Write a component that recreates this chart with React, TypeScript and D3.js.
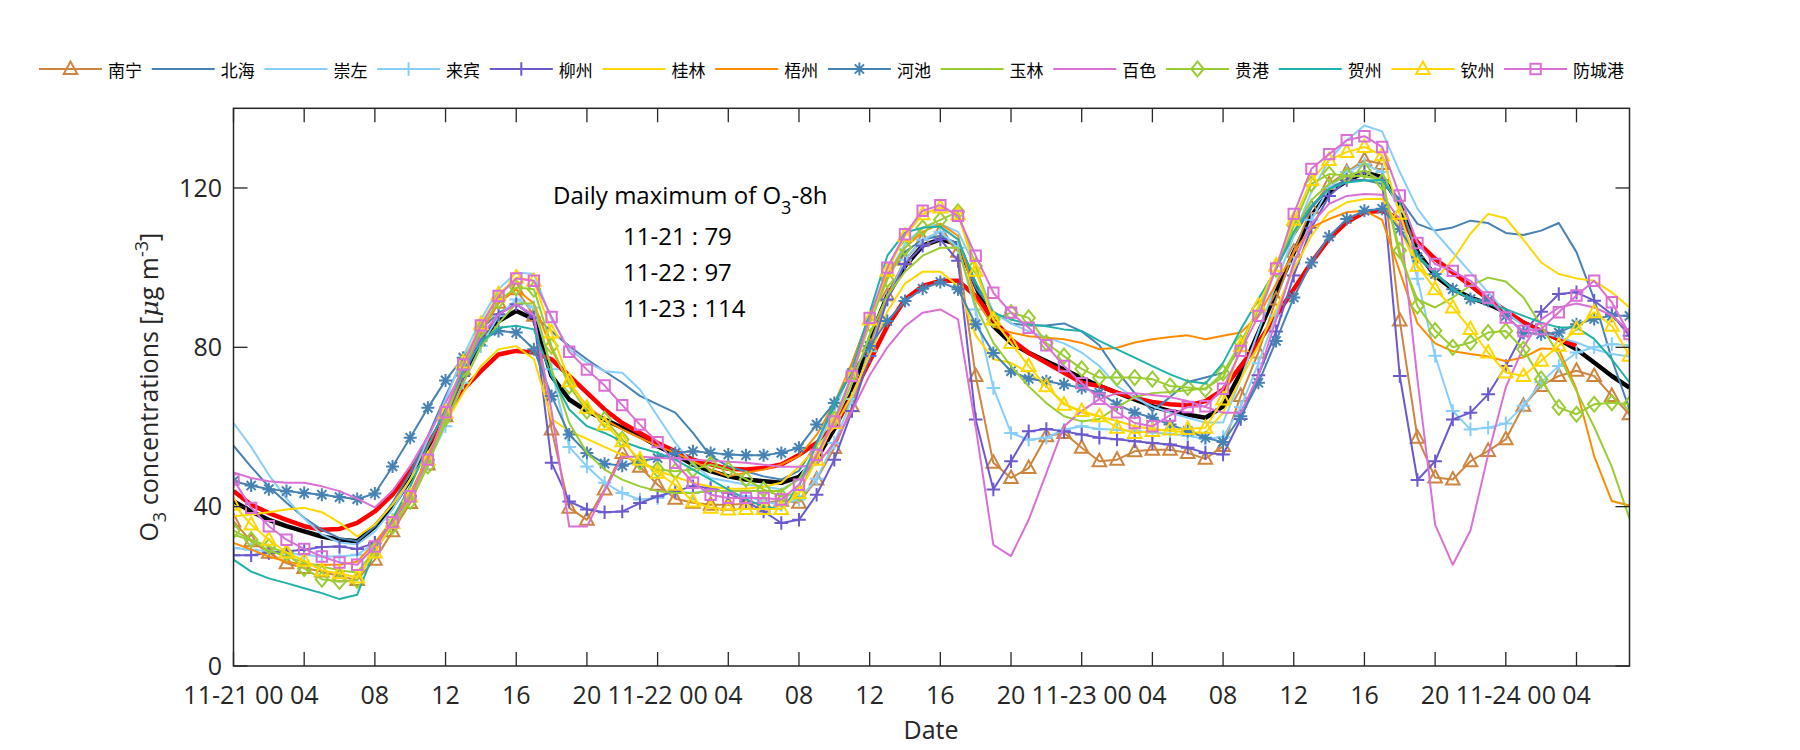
import React from 'react';
import * as d3 from 'd3';

// ---------- data (hourly O3, 11-21 00:00 .. 11-24 07:00) ----------
const cities = ['南宁', '北海', '崇左', '来宾', '柳州', '桂林', '梧州', '河池', '玉林', '百色', '贵港', '贺州', '钦州', '防城港'];
const cityColors = ['#CD853F', '#4682B4', '#87CEFA', '#87CEFA', '#6A5ACD', '#FFD700', '#FF8C00', '#4682B4', '#9ACD32', '#DA70D6', '#9ACD32', '#20B2AA', '#FFD700', '#DA70D6'];
const cityMarkers = ['triangle', 'none', 'none', 'plus', 'plus', 'none', 'none', 'asterisk', 'none', 'none', 'diamond', 'none', 'triangle', 'square'];

const nanning = [36.3, 31.3, 28.4, 25.8, 24.6, 23.7, 22.5, 21.6, 26.7, 33.8, 40.9, 50.6, 62.7, 74.5, 84.5, 91.2, 94.6, 87.9, 59.4, 39.7, 36.7, 44.3, 53.5, 50, 45.5, 42, 41, 40.5, 40.5, 40.7, 41, 41.5, 41, 46.8, 54.7, 65.2, 80.3, 93, 102, 107, 109, 104, 72.8, 51, 47.2, 49.7, 57.7, 58.5, 54.8, 51.4, 51.8, 53.9, 54.3, 54.3, 53.5, 52, 55.2, 67.8, 78.7, 92, 104, 115, 121, 124, 127, 126, 86.7, 57.3, 47.3, 46.8, 51.4, 54, 56.9, 65.3, 70.3, 72.8, 74.1, 72.8, 67.8, 63.2];
const beihai = [55.3, 50, 45, 41, 37.2, 34.2, 32.1, 31.3, 35, 41, 48.5, 57.7, 67.8, 77, 84.5, 88.7, 90.8, 88, 84, 80.3, 77, 74, 71.1, 67.8, 65.7, 63.6, 58.5, 52.7, 50.1, 48.9, 47.6, 46.8, 49, 56, 65, 76, 88, 98, 104, 107, 108, 106, 95, 89, 86, 85.5, 85.5, 86, 84, 80.5, 74, 68.5, 64, 67.5, 71.3, 72.4, 73.6, 80, 90, 100, 108, 115, 120, 122, 122, 121, 117.3, 111, 109.3, 110.1, 111.8, 111.2, 108.7, 108.2, 109.3, 111.2, 103.9, 92.1, 77, 64.4];
const chongzuo = [61, 55, 48, 42, 37, 33, 31, 30.5, 33.8, 39.3, 46.8, 56.9, 66.9, 77.8, 87, 94.6, 98.8, 98.4, 87, 79.5, 76.2, 74, 73.6, 69.4, 62.7, 56, 50.6, 47.2, 46.4, 45.5, 45.1, 44.3, 46.8, 55, 64, 75, 87, 98, 106, 110, 111, 109, 100, 88.7, 86, 84, 82.5, 81, 78.7, 75.3, 70.3, 67.3, 65.2, 63.6, 62.3, 61.1, 61.1, 72, 84, 96, 108, 119, 127, 132, 135.7, 134.2, 124, 114.8, 108.9, 103.8, 98.8, 93.8, 88.8, 85.4, 83.7, 82.5, 81.2, 79.5, 78.3, 77.7];
const laibin = [29.6, 29.2, 28.8, 28.4, 27.9, 27.5, 27.5, 27.9, 30.9, 36.7, 42.6, 51, 60.2, 71.1, 80.3, 87.9, 92, 90, 74.5, 55, 50.1, 46, 43.4, 41.8, 42.2, 43.9, 43.4, 44.3, 43.4, 42.6, 41.3, 40.5, 41.8, 47, 56, 67, 79, 92, 102, 107, 109, 105, 89.5, 69.8, 58.5, 56.8, 57.3, 59.3, 60.2, 59.5, 59.3, 59, 58.6, 58.3, 57.8, 57, 57.5, 65, 76, 88, 101, 112, 120, 124, 126, 124, 114, 97.2, 77.9, 64, 59.4, 59.8, 60.9, 65.3, 71.2, 75.3, 78.7, 80, 80.8, 80.5];
const liuzhou = [27.8, 27.8, 28.4, 28.8, 29.2, 29.9, 30, 29.4, 30.9, 35.9, 42.6, 51.8, 61.9, 72.8, 82, 88.3, 90.8, 87.5, 51, 41.3, 39.3, 38.6, 38.8, 40.9, 42.6, 43.9, 45.1, 44.7, 43.4, 41.3, 38.8, 35.9, 36.7, 43, 51.8, 64, 77.8, 92, 100.9, 105.5, 107.1, 101.7, 61.9, 44.3, 51.4, 58.9, 59.5, 58.9, 58.1, 57.3, 56.9, 56.4, 56, 55.6, 54.8, 53.5, 53.1, 62, 73, 84, 98, 110, 118, 122, 124, 122, 72.8, 46.7, 51.4, 61.9, 63.6, 68.2, 75.3, 83.7, 88.9, 93.4, 93.8, 91.7, 88.3, 82.9];
const guilin = [37.6, 38, 38.6, 39.3, 39.7, 38.6, 36, 32.5, 35.5, 40.5, 46.8, 53.5, 61, 68.6, 75.3, 79.5, 80.3, 77, 62, 59, 57, 55, 53, 51, 49, 47.5, 46, 45, 44.5, 44.5, 45, 46, 50, 55, 60, 68, 78, 89, 96, 99, 99, 95.4, 83, 77, 76.1, 73.6, 70.2, 66, 63.6, 62.7, 61.5, 60.2, 59.5, 59, 58.7, 58.5, 63.6, 72, 80.3, 89.6, 99.6, 108, 113.9, 116.4, 117.2, 117.3, 110, 100, 97, 102, 108.5, 113.5, 112.4, 107, 101.3, 98.4, 97.3, 96.7, 93.8, 90];
const wuzhou = [30.9, 29.2, 27.5, 26.2, 25.4, 25.4, 25.4, 26.2, 30.9, 36.7, 43.4, 52.7, 62.7, 73.6, 83.7, 91, 94.6, 91, 79.5, 71.1, 65.2, 61.9, 59.4, 57.3, 55.2, 53.5, 51.4, 49.3, 47.6, 48.5, 49.3, 50.6, 52.7, 58, 66, 76, 88, 98, 105, 109, 111, 108, 92, 85.3, 83.7, 82.8, 82.4, 82, 81.1, 79.5, 79.9, 81.2, 82, 82.6, 83, 82, 82.9, 83.7, 87.9, 95.9, 103.8, 110.1, 112.2, 113.9, 114.3, 112, 99, 86, 81, 79, 78.3, 77.7, 76.5, 77.5, 79.7, 79.5, 69.5, 52.7, 41.4, 40.3];
const hechi = [46.4, 45.3, 44.4, 43.9, 43.4, 43, 42.4, 41.9, 43.3, 50.1, 57.3, 64.8, 71.7, 77.4, 81.6, 84.1, 83.7, 79.5, 67.8, 58.1, 53.5, 50.8, 50.3, 51.4, 52.2, 53.5, 53.9, 53.5, 53.1, 52.9, 52.9, 53.5, 54.8, 60.6, 66, 73.6, 80.3, 86.6, 91.6, 94.7, 96.4, 94.6, 85.8, 78.6, 74, 72.1, 71.5, 70.7, 69.8, 68.6, 65.7, 63.6, 62.3, 60.6, 59, 57.3, 56.2, 62.7, 71.1, 81.6, 92.5, 101.3, 107.8, 112.2, 114.3, 114.8, 109.7, 102.6, 98.4, 94.6, 92.1, 91.7, 87.9, 83.7, 83.3, 83.7, 85.8, 87.1, 87.9, 87.9];
const yulin = [33, 31.5, 29, 27.5, 26, 25, 24, 23.5, 29, 35, 42, 51, 61, 71, 80, 86, 91, 91, 74.5, 61, 53.5, 49.3, 46.8, 45.1, 43.9, 43.4, 43.4, 43.9, 43.9, 43.9, 43.9, 43.9, 47, 53, 61, 71, 83, 93, 99, 103, 105, 105, 90.4, 81.1, 75.3, 70.2, 66, 62.7, 61.4, 62, 65, 67.5, 68.5, 68.8, 69.2, 69.7, 72.5, 81, 90, 100, 109, 117, 121, 123, 123, 122, 103, 92, 90, 92.5, 95.5, 97.5, 96.5, 92.5, 85.5, 78, 69, 60, 50, 37];
const baise = [48.6, 47.2, 46.4, 46, 46, 45.1, 43.9, 42, 39.8, 44, 50.2, 57.7, 66, 74.5, 82.9, 88.3, 90.8, 88, 64, 35, 35, 44, 52.5, 52.5, 52.3, 52, 51.8, 51.5, 51.3, 51, 50.5, 50, 50, 50.5, 56, 64, 73, 80, 85.3, 88.7, 89.5, 87, 60, 30.4, 27.6, 36.7, 48.4, 60.2, 64, 67, 68.5, 68.5, 68, 67.5, 66.5, 65, 63.6, 63.6, 73, 87, 101, 111, 116, 118, 118.5, 118.3, 112, 72, 35.5, 25.4, 34, 53, 70, 80, 87, 90, 91, 90, 88, 84];
const guigang = [34, 31.7, 30, 28.3, 24.5, 21.8, 21.2, 21.5, 29.2, 35.1, 41.3, 50.2, 62.3, 74.5, 84.5, 91.7, 95, 94.6, 80.3, 70.3, 64, 61.9, 56.9, 51.2, 49.3, 48.9, 49.3, 50.6, 49.3, 46.9, 44.3, 42.6, 43.4, 53, 62, 73, 86, 97, 105, 110, 112, 114, 100.4, 87, 88.7, 87.4, 81.1, 77.8, 74.6, 72.4, 72.4, 72.4, 72, 70.3, 69.9, 69.4, 73.6, 81.2, 89.6, 99.6, 110.5, 121, 123.5, 123.1, 124.4, 121.5, 104.3, 90.4, 84.2, 80, 81.2, 83.7, 84.1, 79.5, 72, 64.9, 63.2, 65.7, 66.1, 65.7];
const hezhou = [26.7, 23.7, 22, 20.8, 19.5, 18.3, 16.8, 17.9, 29, 37, 45, 55.2, 64.4, 74, 81.2, 84.9, 85.4, 84.5, 72.8, 64.4, 60.2, 58.5, 56.4, 54.8, 53.5, 51.8, 49.3, 46.8, 44.3, 41.8, 40.1, 39.3, 45, 56, 66, 74.4, 88.7, 103, 108.8, 110, 110.3, 107.1, 96.2, 88.7, 87, 85.8, 85.3, 84.5, 84.1, 81.6, 79.5, 77.4, 75.3, 73.2, 71.5, 70.9, 76.1, 84.5, 92.1, 99.6, 108.9, 115.6, 119.8, 121.4, 121.9, 122, 116.4, 103, 98.8, 94.6, 92.1, 90.9, 89.6, 87.9, 86.2, 85, 85, 82.1, 77, 71.2];
const qinzhou = [40.5, 35.5, 31.7, 28.5, 26.4, 24, 23.3, 22.2, 28.5, 35.9, 42.6, 51.8, 63.6, 76.2, 85.8, 93.3, 97.5, 96.7, 83.7, 71.5, 64.8, 60.6, 56.4, 51.8, 48.5, 45.5, 41.3, 39.7, 39.3, 39.4, 39.4, 39.4, 43.4, 51.8, 61, 72.8, 87, 99.2, 108, 113.4, 115.1, 113.4, 99.2, 87, 81.1, 75.3, 70.2, 65.6, 64, 62.7, 59.8, 58.5, 59, 59.4, 59.5, 59.8, 66.9, 80.3, 90.4, 100.5, 112, 122, 127, 129, 130.3, 128.2, 113.5, 100.5, 94.6, 90, 84.6, 78.7, 73.7, 72.8, 76.6, 80.4, 84.6, 88.8, 85.4, 77.9];
const fangchenggang = [46.8, 39.7, 35.1, 31.7, 29.4, 27.5, 26, 25.4, 30, 36.1, 42.6, 51.8, 63.7, 75.7, 85.5, 92.9, 97.3, 96.7, 87.6, 78.9, 74.4, 70.4, 65.5, 60.6, 56.2, 51, 46, 43, 42.2, 42.2, 42.2, 41.8, 45.5, 53, 61.4, 72.8, 87.4, 100, 108.4, 114.3, 115.7, 113, 103, 93.7, 88.7, 84.9, 80.5, 75.3, 71, 67.1, 63.7, 61, 60.2, 62.9, 65, 65.2, 69.6, 79.1, 87.9, 99.8, 113.5, 124.8, 128.5, 132, 133, 130.3, 118.1, 106.2, 100.9, 99.2, 96.7, 92.5, 87.5, 84.1, 84.6, 88.8, 93, 96.7, 91.3, 83.3];

// region mean (black) and 8h-average (red)
const meanSeries = [41.4, 38.8, 36.7, 35.1, 33.8, 32.5, 31.7, 31.3, 35, 40.1, 46.8, 54.8, 63.6, 72.8, 81.6, 86.6, 89.1, 87.1, 72.8, 66.9, 64, 61.9, 59.8, 57.7, 55.2, 53.1, 50.6, 48.9, 47.6, 46.8, 46.4, 46, 47.5, 52, 59.5, 68.6, 82, 92.9, 100.4, 105.5, 107.1, 105.9, 95.4, 85.3, 81.1, 78.6, 76.5, 74.4, 72.3, 70.3, 68.6, 66.9, 65.2, 64, 63.1, 62.3, 65.2, 73.6, 83.7, 93.8, 103.8, 113, 118.9, 121.8, 123.9, 122.7, 116, 103.9, 98, 94.6, 92.5, 90.9, 88.8, 86.2, 84.1, 82, 79.5, 76.2, 72.8, 69.9];
const o3_8h = [43.9, 40.5, 38.4, 36.7, 35.1, 34.2, 34.4, 35.9, 38.8, 43, 48.9, 55.6, 62.7, 69.4, 74, 78.2, 79.1, 78.7, 77, 72.8, 68.6, 64.4, 61, 58.5, 56, 53.9, 51.8, 50.6, 49.5, 49.3, 49.7, 50.6, 53, 56, 60.2, 67.7, 76.5, 85.3, 92, 95.4, 96.7, 96.7, 92.9, 87, 82, 78.6, 76.1, 73.6, 71.1, 70.3, 68.6, 67.3, 66.3, 65.7, 65.4, 66.5, 69.4, 75.3, 81.2, 87.9, 94.6, 101.3, 107.2, 111.4, 113.9, 114.3, 112.2, 106.4, 102.2, 98.8, 95.5, 92.1, 89.2, 86.2, 84.1, 82, 80.4];

const citySeries = [nanning, beihai, chongzuo, laibin, liuzhou, guilin, wuzhou, hechi, yulin, baise, guigang, hezhou, qinzhou, fangchenggang];

const xTickHours = [0, 4, 8, 12, 16, 20, 24, 28, 32, 36, 40, 44, 48, 52, 56, 60, 64, 68, 72, 76];
const xTickLabels = ['11-21 00', '04', '08', '12', '16', '20', '11-22 00', '04', '08', '12', '16', '20', '11-23 00', '04', '08', '12', '16', '20', '11-24 00', '04'];
const yTicks = [0, 40, 80, 120];
const annotationLines = ['11-21 : 79', '11-22 : 97', '11-23 : 114'];

// ---------- layout ----------
const W = 1800, H = 750;
const left = 233.5, right = 1629.5, top = 108.3, bottom = 666;
const FONT = "'Open Sans', 'Liberation Sans', sans-serif";
const CJK = "'Noto Sans CJK SC', sans-serif";
const AXIS = '#262626';

function markerPath(type: string): string {
  switch (type) {
    case 'triangle': return 'M0,-7.5L6.8,5L-6.8,5Z';
    case 'square': return 'M-5.2,-5.2H5.2V5.2H-5.2Z';
    case 'diamond': return 'M0,-7.5L6.2,0L0,7.5L-6.2,0Z';
    case 'plus': return 'M-6.8,0H6.8M0,-6.8V6.8';
    case 'asterisk': return 'M-6.5,0H6.5M0,-6.5V6.5M-4.6,-4.6L4.6,4.6M-4.6,4.6L4.6,-4.6';
    default: return '';
  }
}

export default function App() {
  const x = d3.scaleLinear().domain([0, 79]).range([left, right]);
  const y = d3.scaleLinear().domain([0, 140]).range([bottom, top]);
  const line = d3.line<number>().x((_, i) => x(i)).y(d => y(d));

  const legendX0 = 39, legendStep = 112.7, legendY = 69;

  return (
    <svg width={W} height={H} style={{ position: 'absolute', left: 0, top: 0, background: '#fff' }}
      xmlns="http://www.w3.org/2000/svg">
      <rect x={0} y={0} width={W} height={H} fill="#fff" />
      {/* legend */}
      {cities.map((c, i) => {
        const lx = legendX0 + i * legendStep;
        return (
          <g key={c}>
            <line x1={lx} x2={lx + 63} y1={legendY} y2={legendY} stroke={cityColors[i]} strokeWidth={2} />
            {cityMarkers[i] !== 'none' && (
              <path d={markerPath(cityMarkers[i])} transform={`translate(${lx + 31.5},${legendY})`}
                fill="none" stroke={cityColors[i]} strokeWidth={2} />
            )}
            <text x={lx + 69} y={legendY} dominantBaseline="central" fontFamily={CJK} fontSize={17} fill="#000">{c}</text>
          </g>
        );
      })}

      {/* plot box */}
      <rect x={left} y={top} width={right - left} height={bottom - top} fill="#fff" />

      <g clipPath="url(#clip)">
        <defs>
          <clipPath id="clip"><rect x={left} y={top} width={right - left} height={bottom - top} /></clipPath>
        </defs>
        <path d={line(meanSeries) || ''} fill="none" stroke="#000" strokeWidth={4.5} strokeLinejoin="round" />
        <path d={line(o3_8h) || ''} fill="none" stroke="#FF0000" strokeWidth={4.5} strokeLinejoin="round" />
        {citySeries.map((s, i) => (
          <g key={cities[i]}>
            <path d={line(s) || ''} fill="none" stroke={cityColors[i]} strokeWidth={2} strokeLinejoin="round" />
            {cityMarkers[i] !== 'none' && s.map((v, j) => (
              <path key={j} d={markerPath(cityMarkers[i])} transform={`translate(${x(j)},${y(v)})`}
                fill="none" stroke={cityColors[i]} strokeWidth={2} />
            ))}
          </g>
        ))}
      </g>

      {/* axes box & ticks */}
      <rect x={left} y={top} width={right - left} height={bottom - top} fill="none" stroke={AXIS} strokeWidth={1.5} />
      {xTickHours.map((h, i) => (
        <g key={'xt' + i}>
          <line x1={x(h)} x2={x(h)} y1={bottom} y2={bottom - 14} stroke={AXIS} strokeWidth={1.3} />
          <line x1={x(h)} x2={x(h)} y1={top} y2={top + 14} stroke={AXIS} strokeWidth={1.3} />
          <text x={x(h)} y={704} textAnchor="middle" fontFamily={FONT} fontSize={25} fill="#262626">{xTickLabels[i]}</text>
        </g>
      ))}
      {yTicks.map(t => (
        <g key={'yt' + t}>
          <line x1={left} x2={left + 14} y1={y(t)} y2={y(t)} stroke={AXIS} strokeWidth={1.3} />
          <line x1={right} x2={right - 14} y1={y(t)} y2={y(t)} stroke={AXIS} strokeWidth={1.3} />
          <text x={222} y={y(t)} dy="0.35em" textAnchor="end" fontFamily={FONT} fontSize={25} fill="#262626">{t}</text>
        </g>
      ))}

      {/* axis labels */}
      <text x={931} y={739} textAnchor="middle" fontFamily={FONT} fontSize={25} fill="#262626">Date</text>
      <text transform={`translate(158,${(top + bottom) / 2}) rotate(-90)`} textAnchor="middle" fontFamily={FONT} fontSize={25} fill="#262626">
        O<tspan fontSize={18} dy={8}>3</tspan><tspan dy={-8}> concentrations [</tspan><tspan fontStyle="italic" fontFamily="'DejaVu Serif', serif">μ</tspan><tspan>g m</tspan><tspan fontSize={18} dy={-10}>-3</tspan><tspan dy={10}>]</tspan>
      </text>

      {/* annotation */}
      <text x={553} y={204} fontFamily={FONT} fontSize={24} fill="#000">
        Daily maximum of O<tspan fontSize={18} dy={10}>3</tspan><tspan dy={-10}>-8h</tspan>
      </text>
      {annotationLines.map((t, i) => (
        <text key={t} x={623} y={245 + i * 36} fontFamily={FONT} fontSize={24} fill="#000">{t}</text>
      ))}
    </svg>
  );
}
